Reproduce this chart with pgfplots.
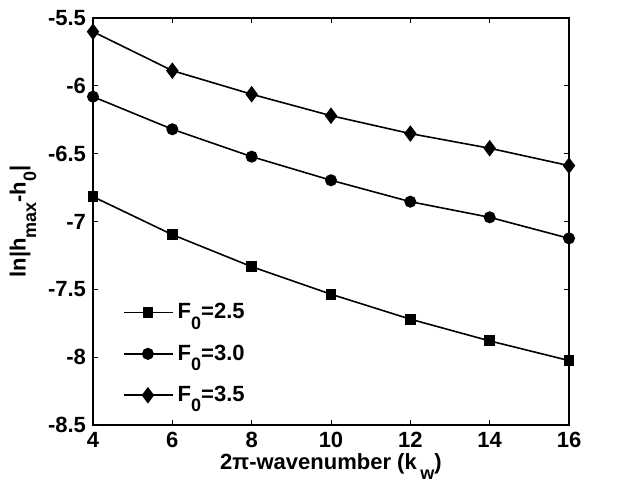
\documentclass[border=0pt]{standalone}
\usepackage{fontspec}
\setmainfont{Liberation Sans}
\setsansfont{Liberation Sans}
\usepackage{pgfplots}
\pgfplotsset{compat=1.18}
% MATLAB-like subscript: nearly full size, dropped below the baseline
\newcommand{\sub}[1]{\raisebox{-5.3pt}{\fontsize{9}{10}\selectfont #1}}
\newcommand{\lsub}[1]{\raisebox{-5.3pt}[0pt][0pt]{\fontsize{9}{10}\selectfont #1}}

\begin{document}
\begin{tikzpicture}
\begin{axis}[
    name=ax,
    scale only axis,
    width=238pt, height=203.5pt,
    xmin=4, xmax=16,
    ymin=-8.5, ymax=-5.5,
    xtick={4,6,...,16},
    ytick={-8.5,-8,-7.5,-7,-6.5,-6,-5.5},
    tick align=inside,
    major tick length=2.5pt,
    axis line style={line width=0.8pt},
    every tick/.style={black, line width=0.5pt},
    /pgf/number format/assume math mode=true,
    yticklabel style={/pgf/number format/fixed, /pgf/number format/precision=1},
    tick label style={font=\fontsize{11}{13}\selectfont\bfseries},
    label style={font=\fontsize{11}{13}\selectfont\bfseries},
    xlabel={2π-wavenumber (k\,\sub{w})},
    ylabel={ln|h\sub{max}-h\sub{0}|},
    xlabel style={yshift=4pt},
    ylabel style={yshift=-1pt},
    legend style={
        draw=none, fill=none,
        at={(0.05,0.03)}, anchor=south west,
        font=\fontsize{11}{13}\selectfont\bfseries,
        row sep=7.5pt,
    },
    legend cell align=left,
    legend image code/.code={
        \draw[mark repeat=2,mark phase=2] plot coordinates {(0cm,0cm)(0.42cm,0cm)(0.86cm,0cm)};
    },
]
\addplot[black, line width=0.8pt, mark=square*, mark size=2.3pt] coordinates {
    (4,-6.817)(6,-7.097)(8,-7.333)(10,-7.536)(12,-7.720)(14,-7.880)(16,-8.025)};
\addplot[black, line width=0.8pt, mark=*, mark size=2.6pt] coordinates {
    (4,-6.080)(6,-6.320)(8,-6.522)(10,-6.696)(12,-6.854)(14,-6.969)(16,-7.124)};
\addplot[black, line width=0.8pt, mark=diamond*, mark size=3.5pt] coordinates {
    (4,-5.601)(6,-5.888)(8,-6.062)(10,-6.220)(12,-6.352)(14,-6.460)(16,-6.588)};
\legend{F\lsub{0}=2.5, F\lsub{0}=3.0, F\lsub{0}=3.5}
\end{axis}
\pgfresetboundingbox
\path ([xshift=-46.5pt,yshift=-31.5pt]ax.south west) rectangle ([xshift=33.5pt,yshift=9pt]ax.north east);
\end{tikzpicture}
\end{document}
